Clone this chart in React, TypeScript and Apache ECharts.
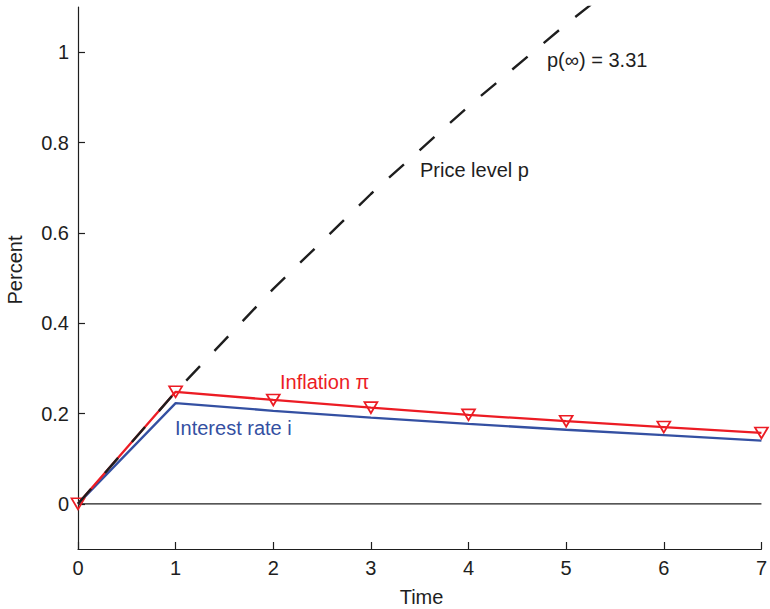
import React, { useEffect, useRef } from "react";
import * as echarts from "echarts";

const time = [0, 1, 2, 3, 4, 5, 6, 7];
const inflation = [0, 0.248, 0.230, 0.213, 0.197, 0.183, 0.170, 0.157];
const interest = [0, 0.223, 0.206, 0.191, 0.177, 0.164, 0.152, 0.140];
const priceLevel = [0, 0.248, 0.476, 0.686, 0.880, 1.062, 1.232, 1.389];
const zeroLine = [
  [0, 0],
  [7, 0],
];
const yTicks = [0, 0.2, 0.4, 0.6, 0.8, 1];

const RED = "#ec1c24";
const BLUE = "#3450a2";
const DARK = "#1e1e1e";
const FONT = "'Liberation Sans', Arial, Helvetica, sans-serif";
const FS = 20;

export default function App() {
  const ref = useRef<HTMLDivElement>(null);
  useEffect(() => {
    if (!ref.current) return;
    const chart = echarts.init(ref.current, null, { renderer: "svg" });
    const pair = (arr: number[]) => time.map((t, i) => [t, arr[i]]);
    const label = (text: string, x: number, y: number, fill: string, align = "left", rotation = 0) => ({
      type: "text",
      x,
      y,
      rotation,
      style: { text, fill, font: `${FS}px ${FONT}`, align, verticalAlign: "middle" },
    });
    chart.setOption({
      animation: false,
      backgroundColor: "#ffffff",
      textStyle: { fontFamily: FONT },
      grid: { left: 78, right: 5, top: 7, bottom: 60, containLabel: false },
      xAxis: {
        type: "value",
        min: 0,
        max: 7,
        interval: 1,
        axisLine: { show: true, onZero: false, lineStyle: { color: DARK, width: 1.2 } },
        axisTick: { show: true, inside: true, length: 7, lineStyle: { color: DARK, width: 1.2 } },
        axisLabel: { color: DARK, fontSize: FS, fontFamily: FONT, margin: 9 },
        splitLine: { show: false },
      },
      yAxis: {
        type: "value",
        min: -0.1,
        max: 1.1,
        axisLine: { show: true, onZero: false, lineStyle: { color: DARK, width: 1.2 } },
        axisTick: {
          show: true,
          inside: true,
          length: 7,
          customValues: yTicks,
          lineStyle: { color: DARK, width: 1.2 },
        },
        axisLabel: {
          color: DARK,
          fontSize: FS,
          fontFamily: FONT,
          margin: 9,
          customValues: yTicks,
          formatter: (v: number) => String(v),
        },
        splitLine: { show: false },
      },
      series: [
        {
          type: "line",
          data: zeroLine,
          symbol: "none",
          lineStyle: { color: DARK, width: 1.2 },
          silent: true,
          z: 1,
        },
        {
          type: "line",
          name: "Interest rate i",
          data: pair(interest),
          symbol: "none",
          lineStyle: { color: BLUE, width: 2.3 },
          z: 2,
        },
        {
          type: "line",
          name: "Inflation",
          data: pair(inflation),
          symbol: "triangle",
          symbolSize: [13, 11],
          symbolRotate: 180,
          showAllSymbol: true,
          itemStyle: { color: "rgba(0,0,0,0)", borderColor: RED, borderWidth: 1.7 },
          lineStyle: { color: RED, width: 2.3 },
          z: 3,
        },
        {
          type: "line",
          name: "Price level p",
          data: pair(priceLevel),
          symbol: "none",
          clip: true,
          lineStyle: { color: DARK, width: 2.4, type: [20, 21], cap: "butt" },
          z: 4,
        },
      ],
      graphic: [
        label("p(∞) = 3.31", 547, 60, DARK),
        label("Price level p", 420, 170, DARK),
        label("Inflation π", 280, 382, RED),
        label("Interest rate i", 175, 428, BLUE),
        label("Time", 421.5, 597, DARK, "center"),
        label("Percent", 15, 270, DARK, "center", Math.PI / 2),
      ],
    });
    return () => chart.dispose();
  }, []);
  return (
    <div
      ref={ref}
      style={{ position: "fixed", left: 0, top: 0, width: 770, height: 609, background: "#fff" }}
    />
  );
}
